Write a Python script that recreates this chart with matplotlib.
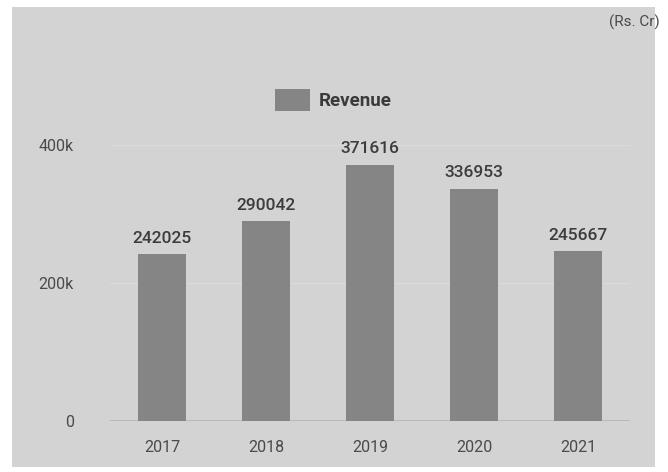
import matplotlib.pyplot as plt
from matplotlib.patches import Rectangle

years = ['2017', '2018', '2019', '2020', '2021']
revenue = [242025, 290042, 371616, 336953, 245667]
y_ticks = [0, 200000, 400000]
y_tick_labels = ['0', '200k', '400k']

plt.rcParams['font.family'] = ['Roboto', 'DejaVu Sans']

panel_color = '#d3d3d3'
bar_color = '#858585'
text_color = '#4a4a4a'

fig = plt.figure(figsize=(6.68, 4.72), dpi=100)
fig.patch.set_facecolor('white')

# grey card behind the chart
fig.patches.append(Rectangle((12 / 668, 5 / 472), 643 / 668, 460 / 472,
                             transform=fig.transFigure, facecolor=panel_color,
                             edgecolor='none', zorder=-5))

ax = fig.add_axes([110 / 668, 51 / 472, 520 / 668, 276 / 472])
ax.set_facecolor('none')
ax.set_zorder(2)

x = list(range(len(years)))
bars = ax.bar(x, revenue, width=0.46, color=bar_color, label='Revenue', zorder=3)

for xi, v in zip(x, revenue):
    ax.text(xi, v + 12000, str(v), ha='center', va='bottom', fontsize=12.5,
            fontweight='medium', color='#3c3c3c', clip_on=False)

ax.set_xlim(-0.5, 4.5)
ax.set_ylim(0, 400000)
ax.set_xticks(x)
ax.set_xticklabels(years)
ax.set_yticks(y_ticks)
ax.set_yticklabels(y_tick_labels)
ax.tick_params(axis='both', length=0, labelsize=11.5, colors=text_color)
ax.tick_params(axis='x', pad=14)
ax.tick_params(axis='y', pad=26)

ax.grid(axis='y', color='#dadada', linewidth=1, zorder=1)
ax.axhline(0, color='#b4b4b4', linewidth=1.2, zorder=2)
for s in ax.spines.values():
    s.set_visible(False)

leg = fig.legend(handles=[bars], labels=['Revenue'], loc='center',
                 bbox_to_anchor=(333 / 668, 1 - 100 / 472), frameon=False,
                 handlelength=1.9, handleheight=1.4, handletextpad=0.45,
                 prop={'weight': 'bold', 'size': 13.5})
for t in leg.get_texts():
    t.set_color('#3a3a3a')

fig.text(0.988, 1 - 22 / 472, '(Rs. Cr)', ha='right', va='center',
         fontsize=11, color=text_color)

fig.savefig('out.png', dpi=100)
